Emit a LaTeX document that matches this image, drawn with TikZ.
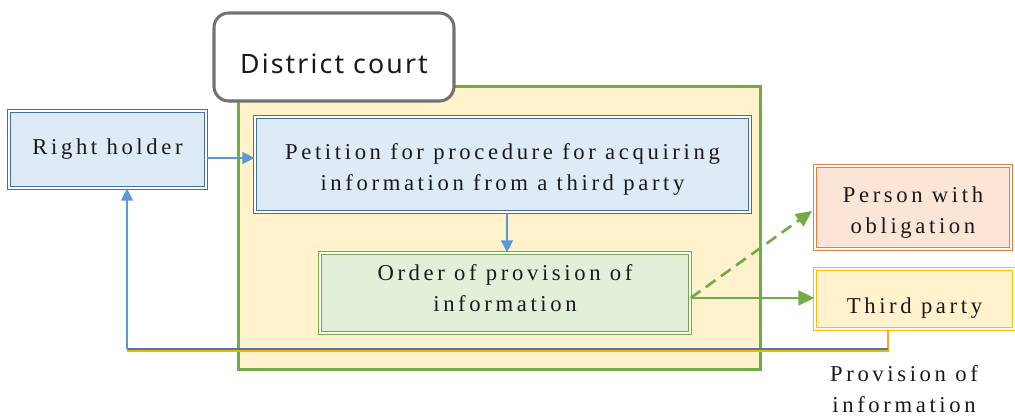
\documentclass[tikz,border=0pt]{standalone}
\usepackage{fontspec}
\setmainfont[LetterSpace=16]{Liberation Serif}
\newfontfamily\courtfont[LetterSpace=8]{Noto Sans}
\usetikzlibrary{arrows.meta}
\definecolor{bbord}{HTML}{41719C}
\definecolor{bfill}{HTML}{DEEBF7}
\definecolor{barrow}{HTML}{5B9BD5}
\definecolor{gbord}{HTML}{70AD47}
\definecolor{gfill}{HTML}{E2F0D9}
\definecolor{obord}{HTML}{ED7D31}
\definecolor{ofill}{HTML}{FBE5D6}
\definecolor{ybord}{HTML}{FFC000}
\definecolor{yfill}{HTML}{FFF2CC}
\definecolor{cbord}{HTML}{767171}
\definecolor{txt}{HTML}{1A1A1A}
\newcommand\lift[1]{\rule{0pt}{#1}}
\tikzset{
  dbox/.style={draw=#1, double=white, line width=0.9pt, double distance=0.9pt, inner sep=0pt, align=center, text=txt, font=\fontsize{17}{23}\selectfont},
  tup/.style={execute at end node={\rule[-#1]{0pt}{0pt}}},
  barr/.style={draw=barrow, line width=0.9pt, -{Triangle[length=9pt,width=9pt]}},
  garr/.style={draw=gbord, line width=2pt, -{Triangle[length=12pt,width=11pt]}},
}
\begin{document}
\begin{tikzpicture}[x=0.75pt,y=-0.75pt]
\useasboundingbox (0,0) rectangle (1015,416);
% big district court area
\node[draw=gbord, fill=yfill, line width=2.4pt, minimum width={522*0.75pt}, minimum height={283*0.75pt}, inner sep=0pt] (area) at (499.5,228) {};
% district court label box
\node[draw=cbord, fill=white, line width=2.3pt, rounded corners=11pt, minimum width={240*0.75pt}, minimum height={88*0.75pt}, inner sep=0pt, text=txt, font=\courtfont\fontsize{20}{24}\selectfont, text height=25pt, text depth=0pt] (court) at (334,57) {District court};
% boxes
\node[dbox=bbord, fill=bfill, minimum width={197*0.75pt}, minimum height={77*0.75pt}] (rh) at (107.5,149.5) {Right holder};
\node[dbox=bbord, fill=bfill, minimum width={495*0.75pt}, minimum height={95*0.75pt}] (pet) at (502.5,164.5) {\lift{19pt}Petition for procedure for acquiring\\information from a third party};
\node[dbox=gbord, fill=gfill, minimum width={370*0.75pt}, minimum height={80*0.75pt}, tup=7.5pt] (ord) at (505,293) {Order of provision of\\information};
\node[dbox=obord, fill=ofill, minimum width={196*0.75pt}, minimum height={83*0.75pt}] (pwo) at (913,207.5) {\lift{19pt}Person with\\obligation};
\node[dbox=ybord, fill=yfill, minimum width={199*0.75pt}, minimum height={60*0.75pt}, text height=21.4pt, text depth=0pt] (tp) at (914.5,299) {Third party};
\node[text=txt, align=center, font=\fontsize{17}{23}\selectfont, inner sep=0pt] (prov) at (904,389) {Provision of\\information};
% coordinates for the return path
\coordinate (tpdown) at (888,351);
\coordinate (leftY) at (127,351);
\coordinate (tpdownB) at (888,349);
\coordinate (leftB) at (127,349);
% connectors
\draw[barr] (rh.east |- 0,158) -- (pet.west |- 0,158);
\draw[barr] (pet.south -| 507,0) -- (ord.north -| 507,0);
\draw[garr] (ord.east |- 0,298) -- (tp.west |- 0,298);
\draw[garr, dashed, dash pattern=on 9pt off 5pt] (ord.east |- 0,298) -- (812,211);
\draw[draw=ybord!70!orange, line width=1.2pt] (tp.south -| tpdown) -- (tpdown) -- (leftY);
\draw[draw=barrow!80!black, line width=1.4pt] (tpdownB) -- (leftB);
\draw[barr] (leftB) -- (rh.south -| leftB);
\end{tikzpicture}
\end{document}
